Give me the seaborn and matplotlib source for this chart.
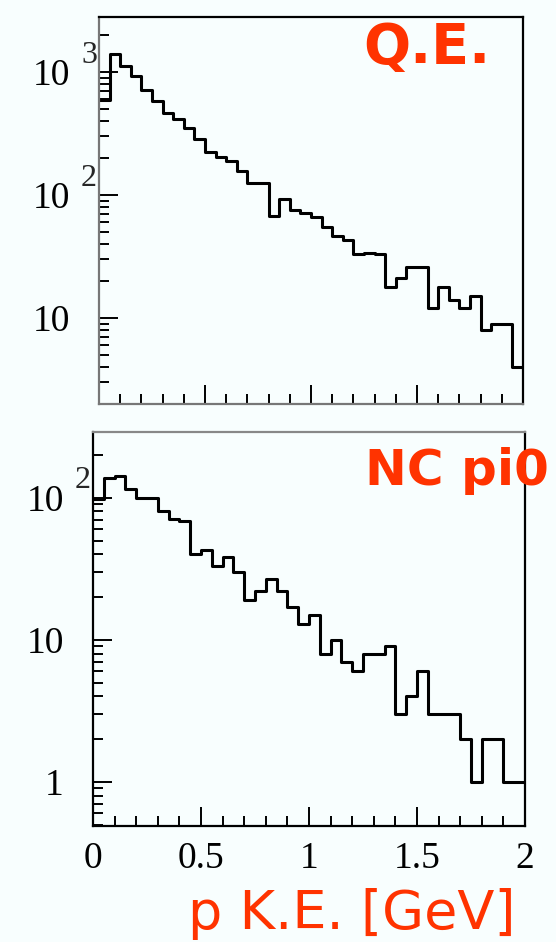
import numpy as np
import pandas as pd
import matplotlib
matplotlib.use("Agg")
import matplotlib.pyplot as plt
import matplotlib.ticker as mticker
import seaborn as sns

sns.set_style("ticks")
plt.rcParams['font.family'] = ['Liberation Serif', 'DejaVu Serif']

# 40 bins of 0.05 GeV from 0 to 2 GeV
bin_edges = np.linspace(0, 2, 41)
bin_centers = 0.5 * (bin_edges[:-1] + bin_edges[1:])

# Q.E. proton kinetic energy (entries per bin)
qe_counts = [593, 1406, 1127, 933, 716, 586, 461, 414, 348, 284,
             224, 204, 188, 158, 125, 125, 68, 93, 75, 71,
             66, 55, 46, 43, 33, 34, 33, 18, 21, 26,
             26, 12, 18, 14, 12, 15, 8, 9, 9, 4]

# NC pi0 proton kinetic energy (entries per bin)
ncpi0_counts = [98, 137, 143, 116, 100, 100, 80, 71, 69, 40,
                43, 33, 38, 30, 19, 22, 27, 22, 17, 13,
                15, 8, 10, 7, 6, 8, 8, 9, 3, 4,
                6, 3, 3, 3, 2, 1, 2, 2, 1, 1]

qe_yticks = [10, 100, 1000]
qe_ylabels = ['10', '10', '10']
qe_exps = ['', '2', '3']
nc_yticks = [1, 10, 100]
nc_ylabels = ['1', '10', '10']
nc_exps = ['', '', '2']
xticks = [0, 0.5, 1, 1.5, 2]
xticklabels = ['0', '0.5', '1', '1.5', '2']

red = '#ff3300'
bg = '#f8fefe'

fig = plt.figure(figsize=(5.56, 9.42), dpi=100, facecolor=bg)
ax1 = fig.add_axes([99 / 556, 1 - 404 / 942, 424 / 556, 387 / 942])
ax2 = fig.add_axes([93 / 556, 1 - 826 / 942, 432 / 556, 394 / 942])


def style_panel(ax, counts, ylim, yticks, ylabels, exps, show_x):
    df = pd.DataFrame({'ke': bin_centers, 'n': np.asarray(counts, dtype=float)})
    sns.histplot(data=df, x='ke', weights='n', bins=list(bin_edges), element='step',
                 fill=False, color='black', linewidth=2.2, ax=ax)
    ax.set_facecolor(bg)
    ax.set_yscale('log')
    ax.set_xlim(0, 2)
    ax.set_ylim(*ylim)
    ax.set_xlabel('')
    ax.set_ylabel('')
    ax.yaxis.set_major_locator(mticker.FixedLocator(yticks))
    ax.yaxis.set_major_formatter(mticker.FixedFormatter(ylabels))
    ax.yaxis.set_minor_locator(mticker.LogLocator(subs=np.arange(2, 10)))
    ax.yaxis.set_minor_formatter(mticker.NullFormatter())
    ax.xaxis.set_major_locator(mticker.FixedLocator(xticks))
    ax.xaxis.set_minor_locator(mticker.MultipleLocator(0.1))
    ax.tick_params(which='both', direction='in', top=False, right=False, colors='black')
    ax.tick_params(which='major', length=14, width=1.4)
    ax.tick_params(which='minor', length=7.5, width=1.4)
    ax.tick_params(axis='y', which='major', pad=21, labelsize=27)
    if show_x:
        ax.set_xticklabels(xticklabels)
        ax.tick_params(axis='x', which='major', pad=11, labelsize=27)
    else:
        ax.set_xticklabels([])
    for sp in ax.spines.values():
        sp.set_visible(True)
        sp.set_linewidth(1.6)
        sp.set_color('black')
    for val, e in zip(yticks, exps):
        if e:
            ax.annotate(e, xy=(0, val), xycoords=('axes fraction', 'data'),
                        xytext=(-2, 17), textcoords='offset pixels',
                        ha='right', va='center', fontsize=23)


style_panel(ax1, qe_counts, (2, 2800), qe_yticks, qe_ylabels, qe_exps, False)
style_panel(ax2, ncpi0_counts, (0.49, 290), nc_yticks, nc_ylabels, nc_exps, True)
ax1.spines['left'].set_color('#777777')
ax1.spines['bottom'].set_color('#777777')
ax2.spines['top'].set_color('#888888')

fig.text(363 / 556, 1 - 63 / 942, 'Q.E.', color=red, fontsize=40, fontweight='bold',
         family=['DejaVu Sans'], ha='left', va='baseline')
fig.text(365 / 556, 1 - 485 / 942, 'NC pi0', color=red, fontsize=36, fontweight='bold',
         family=['DejaVu Sans'], ha='left', va='baseline')
fig.text(352 / 556, 1 - 914 / 942, 'p K.E. [GeV]', color=red, fontsize=39,
         family=['DejaVu Sans'], ha='center', va='center')

fig.savefig('out.png', dpi=100, facecolor=bg)
